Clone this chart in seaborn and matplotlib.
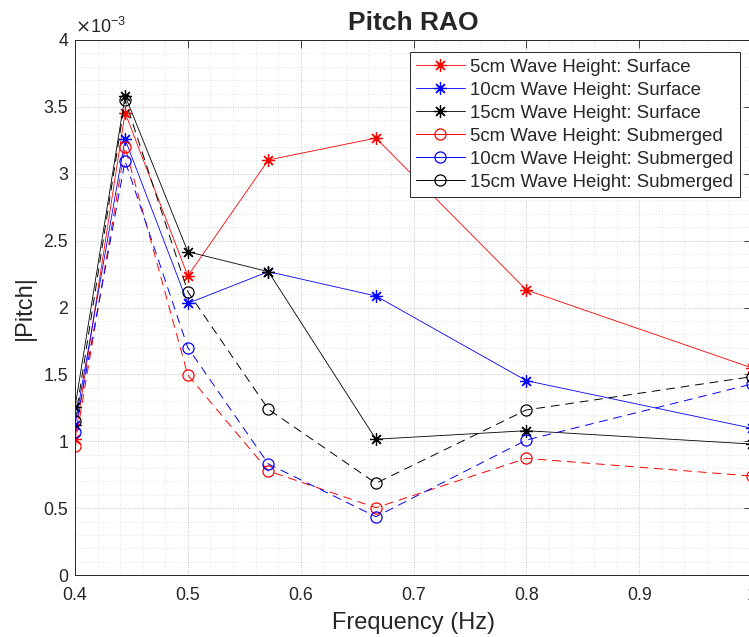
import numpy as np
import pandas as pd
import matplotlib
matplotlib.use("Agg")
import matplotlib.pyplot as plt
import seaborn as sns
from matplotlib.ticker import MultipleLocator

sns.set_style("white")
plt.rcParams["font.family"] = ["Liberation Sans", "DejaVu Sans"]

# frequencies (Hz) and |Pitch| values in units of 1e-3
freq = [0.4, 0.4444, 0.5, 0.5714, 0.6667, 0.8, 1.0]

surf_5cm = [1.015, 3.457, 2.236, 3.103, 3.267, 2.131, 1.548]
surf_10cm = [1.12, 3.257, 2.031, 2.268, 2.086, 1.453, 1.097]
surf_15cm = [1.254, 3.584, 2.417, 2.268, 1.015, 1.079, 0.979]
sub_5cm = [0.964, 3.198, 1.495, 0.778, 0.503, 0.872, 0.740]
sub_10cm = [1.072, 3.095, 1.700, 0.830, 0.436, 1.009, 1.428]
sub_15cm = [1.151, 3.551, 2.118, 1.239, 0.686, 1.234, 1.483]

labels = ["5cm Wave Height: Surface", "10cm Wave Height: Surface",
          "15cm Wave Height: Surface", "5cm Wave Height: Submerged",
          "10cm Wave Height: Submerged", "15cm Wave Height: Submerged"]
series = [surf_5cm, surf_10cm, surf_15cm, sub_5cm, sub_10cm, sub_15cm]
colors = ["#ff0000", "#0000ff", "#000000", "#ff0000", "#0000ff", "#000000"]

xticks = [0.4, 0.5, 0.6, 0.7, 0.8, 0.9, 1.0]
xticklabels = ["0.4", "0.5", "0.6", "0.7", "0.8", "0.9", "1"]
yticks = [0, 0.5, 1, 1.5, 2, 2.5, 3, 3.5, 4]
yticklabels = ["0", "0.5", "1", "1.5", "2", "2.5", "3", "3.5", "4"]

fig = plt.figure(figsize=(7.49, 6.37), dpi=100)
ax = fig.add_axes([75 / 749, 1 - 575 / 637, (752 - 75) / 749, (575 - 40) / 637])

asterisk = (8, 2, 0)
for i, (lab, vals, col) in enumerate(zip(labels, series, colors)):
    df = pd.DataFrame({"freq": freq, "pitch": vals})
    if i < 3:
        sns.lineplot(data=df, x="freq", y="pitch", ax=ax, color=col, label=lab,
                     linewidth=0.6, marker=asterisk, markersize=9,
                     markeredgewidth=0.9, markeredgecolor=col, sort=False)
    else:
        sns.lineplot(data=df, x="freq", y="pitch", ax=ax, color=col, label=lab,
                     linewidth=0.7, linestyle=(0, (9, 6)), marker="o",
                     markersize=8, markerfacecolor="none", markeredgewidth=0.9,
                     markeredgecolor=col, sort=False)

ax.set_xlim(0.4, 1.0)
ax.set_ylim(0, 4)
ax.set_xticks(xticks)
ax.set_xticklabels(xticklabels)
ax.set_yticks(yticks)
ax.set_yticklabels(yticklabels)
ax.xaxis.set_minor_locator(MultipleLocator(0.02))
ax.yaxis.set_minor_locator(MultipleLocator(0.1))

ax.grid(True, which="major", color="#b0b0b0", linestyle=(0, (1, 2)), linewidth=0.6)
ax.grid(True, which="minor", color="#c8c8c8", linestyle=(0, (1, 3)), linewidth=0.5)
ax.tick_params(which="both", direction="in", top=True, right=True,
               colors="#262626", labelcolor="#262626")
ax.tick_params(which="major", length=6, width=0.6, labelsize=12.8)
ax.tick_params(axis="x", which="major", pad=9)
ax.tick_params(axis="y", which="major", pad=5)
ax.tick_params(which="minor", length=0)
for s in ax.spines.values():
    s.set_color("#262626")
    s.set_linewidth(0.7)

ax.set_title("Pitch RAO", fontsize=19, fontweight="bold", pad=7)
ax.set_xlabel("Frequency (Hz)", fontsize=17, color="#262626", labelpad=5.5)
ax.set_ylabel("|Pitch|", fontsize=17, color="#262626", labelpad=5)
ax.text(0.0, 1.005, r"$\times$10$^{\mathregular{-3}}$", transform=ax.transAxes,
        fontsize=13, color="#262626", ha="left", va="bottom")

leg = ax.legend(loc="upper right", fontsize=13.4, frameon=True, fancybox=False,
                framealpha=1, edgecolor="#262626", handlelength=2.6,
                handletextpad=0.3, labelspacing=0.32, borderaxespad=0.65,
                borderpad=0.35)
leg.get_frame().set_linewidth(0.7)
for h in leg.legend_handles:
    h.set_linestyle("-")

fig.savefig("out.png", dpi=100)
